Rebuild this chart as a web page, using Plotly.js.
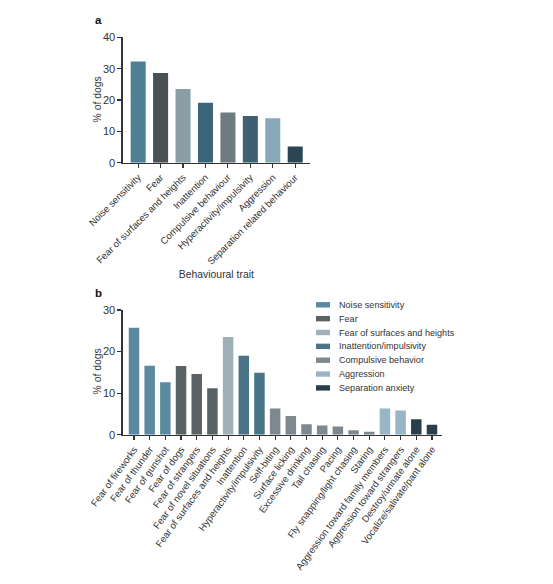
<!DOCTYPE html>
<html><head><meta charset="utf-8">
<script src="https://cdn.plot.ly/plotly-3.0.1.min.js"></script>
<style>html,body{margin:0;padding:0;background:#fff}#chart{width:553px;height:584px}</style>
</head><body><div id="chart"></div>
<script>
// ---- Panel a data ----
const traitsA = ["Noise sensitivity", "Fear", "Fear of surfaces and heights", "Inattention",
  "Compulsive behaviour", "Hyperactivity/impulsivity", "Aggression", "Separation related behaviour"];
const valuesA = [32.3, 28.6, 23.5, 19.1, 16.0, 14.9, 14.2, 5.2];
const colorsA = ["#4f7f93", "#4a5152", "#8a9ea6", "#3e6577", "#6e7c82", "#3f5f72", "#87a9b8", "#2a4652"];

// ---- Panel b data ----
const behavioursB = ["Fear of fireworks", "Fear of thunder", "Fear of gunshot", "Fear of dogs",
  "Fear of strangers", "Fear of novel situations", "Fear of surfaces and heights", "Inattention",
  "Hyperactivity/impulsivity", "Self-biting", "Surface licking", "Excessive drinking",
  "Tail chasing", "Pacing", "Fly snapping/light chasing", "Staring",
  "Aggression toward family members", "Aggression toward strangers",
  "Destroy/urinate alone", "Vocalize/salivate/pant alone"];
const valuesB = [25.7, 16.6, 12.6, 16.5, 14.6, 11.2, 23.5, 19.0, 14.9, 6.3, 4.5, 2.5,
  2.2, 2.0, 1.1, 0.7, 6.3, 5.8, 3.7, 2.4];
const groupB = [0, 0, 0, 1, 1, 1, 2, 3, 3, 4, 4, 4, 4, 4, 4, 4, 5, 5, 6, 6];
const groupNames = ["Noise sensitivity", "Fear", "Fear of surfaces and heights",
  "Inattention/impulsivity", "Compulsive behavior", "Aggression", "Separation anxiety"];
const groupColors = ["#5b8aa0", "#5a6266", "#a0b0b8", "#4a7588", "#7d898e", "#98b6c5", "#29404c"];

const W = 553, H = 584;
const fx = x => x / W;
const fy = y => 1 - y / H;
const FONT = "Liberation Sans, Arial, sans-serif";
const TXT = "#333";

const traceA = {
  type: "bar", x: traitsA, y: valuesA, xaxis: "x", yaxis: "y",
  marker: {color: colorsA, line: {width: 0}}, showlegend: false, hoverinfo: "x+y"
};
const traceB = {
  type: "bar", x: behavioursB, y: valuesB, xaxis: "x2", yaxis: "y2",
  marker: {color: groupB.map(g => groupColors[g]), line: {width: 0}}, showlegend: false, hoverinfo: "x+y"
};

const axCommon = {
  showgrid: false, zeroline: false, showline: true, linecolor: "#333", linewidth: 1.3,
  ticks: "outside", ticklen: 4, tickwidth: 1.1, tickcolor: "#333", automargin: false
};

// legend built from the group arrays
const legendShapes = [], legendAnns = [];
groupNames.forEach((name, i) => {
  const yc = 304.8 + i * 13.85;
  legendShapes.push({type: "rect", xref: "paper", yref: "paper",
    x0: fx(316), x1: fx(330), y0: fy(yc + 2.7), y1: fy(yc - 2.7),
    fillcolor: groupColors[i], line: {width: 0}});
  legendAnns.push({xref: "paper", yref: "paper", x: fx(336.5), y: fy(yc), xanchor: "left", yanchor: "middle",
    text: name, showarrow: false, font: {family: FONT, size: 9.1, color: TXT}});
});

const titleFont = {family: FONT, size: 10.4, color: TXT};

const layout = {
  width: W, height: H, margin: {l: 0, r: 0, t: 0, b: 0},
  paper_bgcolor: "#fff", plot_bgcolor: "rgba(0,0,0,0)",
  font: {family: FONT, color: TXT},
  bargap: 0.33, showlegend: false,
  xaxis: Object.assign({}, axCommon, {
    domain: [fx(122.7), fx(310)], anchor: "y", range: [-0.69, 7.66],
    tickangle: -45, tickfont: {family: FONT, size: 9.6, color: TXT},
    title: {text: "Behavioural trait", font: titleFont, standoff: 5}
  }),
  yaxis: Object.assign({}, axCommon, {
    domain: [fy(162.7), fy(37.3)], anchor: "x", range: [0, 40], dtick: 10,
    tickfont: {family: FONT, size: 11, color: TXT}
  }),
  xaxis2: Object.assign({}, axCommon, {
    domain: [fx(122.7), fx(441.7)], anchor: "y2", range: [-0.72, 19.62],
    tickangle: -54, tickfont: {family: FONT, size: 9.6, color: TXT}
  }),
  yaxis2: Object.assign({}, axCommon, {
    domain: [fy(434.7), fy(310)], anchor: "x2", range: [0, 30], dtick: 10,
    tickfont: {family: FONT, size: 11, color: TXT}
  }),
  shapes: legendShapes,
  annotations: legendAnns.concat([
    {xref: "paper", yref: "paper", x: fx(96.5), y: fy(100), xanchor: "center", yanchor: "middle",
      text: "% of dogs", textangle: -90, showarrow: false, font: titleFont},
    {xref: "paper", yref: "paper", x: fx(96.5), y: fy(372), xanchor: "center", yanchor: "middle",
      text: "% of dogs", textangle: -90, showarrow: false, font: titleFont},
    {xref: "paper", yref: "paper", x: fx(98), y: fy(19.5), xanchor: "center", yanchor: "middle",
      text: "<b>a</b>", showarrow: false, font: {family: FONT, size: 11.5, color: "#111"}},
    {xref: "paper", yref: "paper", x: fx(98), y: fy(292.5), xanchor: "center", yanchor: "middle",
      text: "<b>b</b>", showarrow: false, font: {family: FONT, size: 11.5, color: "#111"}}
  ])
};

Plotly.newPlot("chart", [traceA, traceB], layout, {displayModeBar: false, staticPlot: true});
</script>
</body></html>
